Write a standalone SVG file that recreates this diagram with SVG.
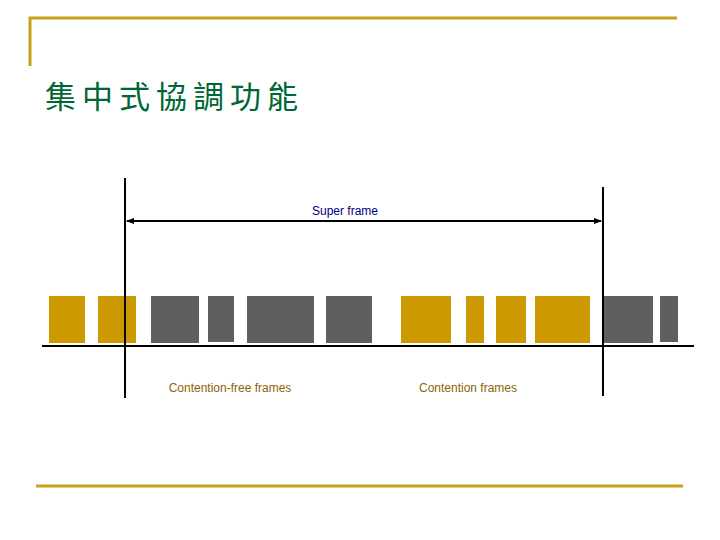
<svg xmlns="http://www.w3.org/2000/svg" width="720" height="540" viewBox="0 0 720 540">
<style>
.g{stroke:#C9A21C;stroke-width:3;fill:none}
.y{fill:#CC9900}.d{fill:#5F5F5F}
.k{stroke:#000;stroke-width:2;fill:none}
.lab{font-family:"Liberation Sans",Arial,sans-serif;font-size:12px;fill:#8B6508;text-anchor:middle}
</style>
<defs><marker id="a" markerWidth="8" markerHeight="8" refX="7" refY="4" orient="auto-start-reverse" markerUnits="userSpaceOnUse"><path d="M0,1L8,4L0,7Z" fill="#000"/></marker></defs>
<rect width="720" height="540" fill="#fff"/>
<g id="frame"><path class="g" d="M30,66V18H677"/><path class="g" d="M36,486H683"/></g>
<text id="title" x="45" y="108" font-family="'Noto Sans CJK TC',serif" font-size="31" fill="#006633" letter-spacing="6">集中式協調功能</text>
<g id="blocks">
<rect class="y" x="49" y="296" width="36" height="47"/>
<rect class="y" x="98" y="296" width="38" height="47"/>
<rect class="d" x="151" y="296" width="48" height="47"/>
<rect class="d" x="208" y="296" width="26" height="46"/>
<rect class="d" x="247" y="296" width="67" height="47"/>
<rect class="d" x="326" y="296" width="46" height="47"/>
<rect class="y" x="401" y="296" width="50" height="47"/>
<rect class="y" x="466" y="296" width="18" height="47"/>
<rect class="y" x="496" y="296" width="30" height="47"/>
<rect class="y" x="535" y="296" width="55" height="47"/>
<rect class="d" x="603" y="296" width="50" height="47"/>
<rect class="d" x="660" y="296" width="18" height="46"/>
</g>
<g id="connectors">
<path class="k" d="M42,346H694"/>
<path class="k" d="M125,178V398"/>
<path class="k" d="M603,187V396"/>
<path class="k" d="M127,221H601" marker-start="url(#a)" marker-end="url(#a)"/>
</g>
<text x="345" y="215" class="lab" style="fill:#000080">Super frame</text>
<text x="230" y="392" class="lab">Contention-free frames</text>
<text x="468" y="392" class="lab">Contention frames</text>
</svg>
